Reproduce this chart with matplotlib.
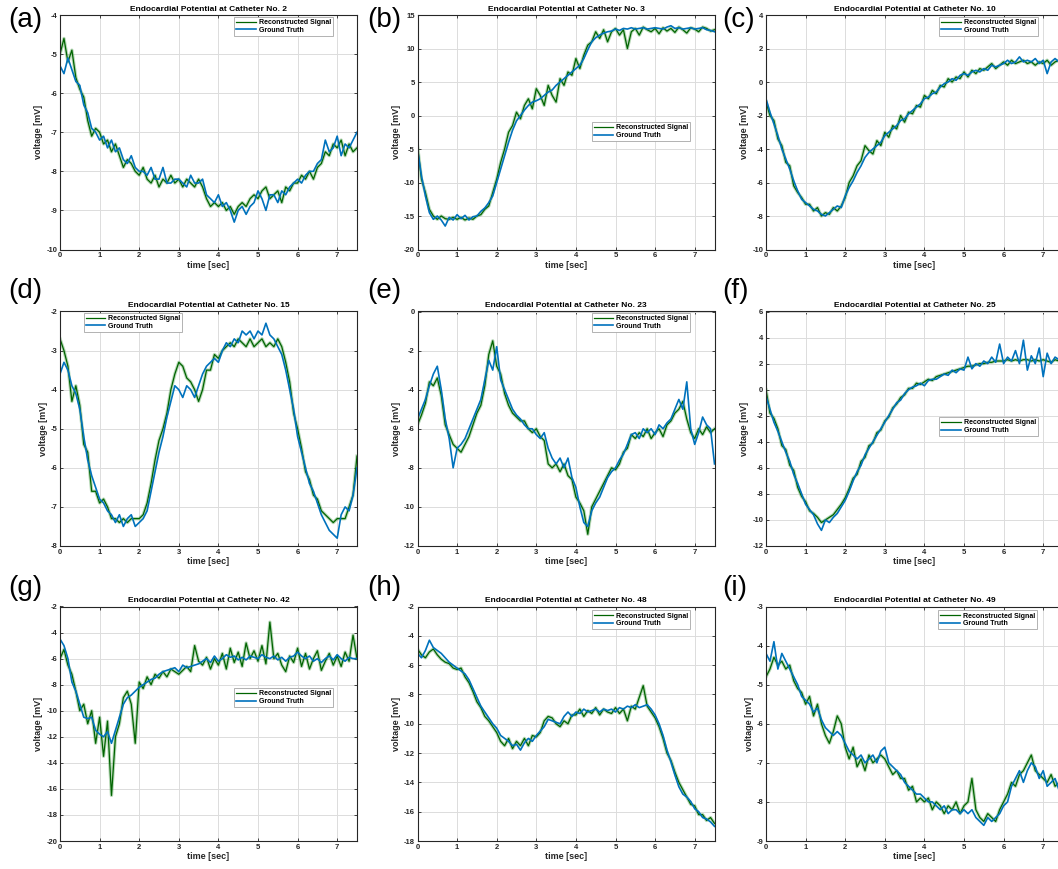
import matplotlib
matplotlib.use("Agg")
import matplotlib.pyplot as plt
import numpy as np

plt.rcParams['font.family'] = ['Liberation Sans', 'DejaVu Sans']
plt.rcParams['axes.unicode_minus'] = False

# catheter numbers for each panel
catheters = [2, 3, 10, 15, 23, 25, 42, 48, 49]
panel_tags = ['(a)', '(b)', '(c)', '(d)', '(e)', '(f)', '(g)', '(h)', '(i)']
ylims = [(-10, -4), (-20, 15), (-10, 4), (-8, -2), (-12, 0),
         (-12, 6), (-20, -2), (-18, -2), (-9, -3)]
ysteps = [1, 5, 2, 1, 2, 2, 2, 2, 1]

gt_a = [-5.3, -5.5, -5.1, -5.4, -5.7, -5.8, -6.3, -6.5, -6.9, -7.0,
        -7.2, -7.1, -7.4, -7.2, -7.5, -7.4, -7.7, -7.8, -7.6, -7.9,
        -8.0, -8.0, -8.1, -7.9, -8.2, -8.2, -7.9, -8.3, -8.3, -8.2,
        -8.2, -8.3, -8.4, -8.1, -8.3, -8.3, -8.2, -8.6, -8.7, -8.8,
        -8.6, -8.9, -8.8, -9.0, -9.3, -9.0, -8.9, -9.1, -8.9, -8.8,
        -8.5, -8.7, -9.0, -8.6, -8.6, -8.8, -8.5, -8.6, -8.4, -8.3,
        -8.2, -8.3, -8.1, -8.0, -8.0, -7.8, -7.7, -7.2, -7.5, -7.4,
        -7.1, -7.6, -7.3, -7.4, -7.2, -7.0]
rec_a = [-5.0, -4.6, -5.2, -4.9, -5.6, -5.9, -6.1, -6.7, -7.1, -6.9,
         -7.0, -7.3, -7.2, -7.5, -7.3, -7.6, -7.9, -7.7, -7.8, -8.0,
         -8.1, -7.9, -8.2, -8.3, -8.1, -8.4, -8.2, -8.3, -8.1, -8.3,
         -8.2, -8.4, -8.2, -8.3, -8.4, -8.2, -8.4, -8.7, -8.9, -8.8,
         -8.9, -8.8, -9.0, -8.9, -9.1, -8.9, -8.8, -8.9, -8.7, -8.6,
         -8.7, -8.5, -8.4, -8.7, -8.6, -8.5, -8.8, -8.4, -8.5, -8.3,
         -8.3, -8.1, -8.2, -8.0, -8.2, -7.9, -7.8, -7.5, -7.6, -7.3,
         -7.4, -7.2, -7.6, -7.3, -7.5, -7.4]

gt_b = [-5.0, -9.0, -12.0, -14.5, -15.5, -15.0, -15.6, -16.5, -15.2, -15.6,
        -14.8, -15.4, -14.9, -15.6, -15.1, -15.0, -14.3, -13.8, -13.0, -12.0,
        -10.0, -8.0, -6.0, -4.0, -2.2, -0.8, 0.0, 0.8, 1.5, 2.0,
        2.2, 2.5, 3.0, 3.5, 3.8, 4.5, 5.0, 5.5, 6.0, 6.5,
        7.0, 7.5, 8.5, 9.8, 11.0, 11.6, 12.0, 12.3, 12.5, 12.6,
        12.9, 12.7, 13.0, 12.9, 13.1, 12.9, 13.0, 13.1, 12.9, 13.0,
        13.1, 13.0, 12.9, 13.2, 13.4, 13.0, 13.1, 12.9, 13.0, 13.1,
        12.9, 13.0, 13.1, 12.8, 12.7, 12.5]
rec_b = [-4.5, -9.5, -11.5, -14.0, -15.0, -15.5, -15.0, -15.4, -15.5, -15.2,
         -15.5, -15.2, -15.6, -15.3, -15.5, -15.0, -14.8, -14.0, -13.5, -11.5,
         -9.5, -7.0, -5.0, -2.5, -1.5, 0.5, -0.5, 1.5, 2.5, 1.0,
         4.0, 3.0, 1.5, 4.5, 3.0, 2.0, 5.5, 4.5, 6.5, 6.0,
         8.5, 7.0, 9.0, 10.5, 11.0, 12.5, 11.5, 12.8, 11.0, 12.5,
         13.0, 12.0, 12.8, 10.0, 12.5, 13.0, 12.0, 13.2, 12.8, 12.5,
         13.0, 12.2, 13.1, 12.6, 13.0, 12.4, 13.2, 12.8, 12.3, 13.1,
         12.9, 12.5, 13.2, 13.0, 12.6, 12.8]

gt_c = [-1.0, -1.8, -2.5, -3.2, -4.0, -4.6, -5.2, -5.9, -6.5, -7.0,
        -7.2, -7.4, -7.6, -7.7, -7.9, -8.0, -7.8, -7.6, -7.4, -7.5,
        -6.8, -6.3, -5.9, -5.4, -5.0, -4.5, -4.2, -4.0, -3.8, -3.6,
        -3.2, -3.0, -2.8, -2.6, -2.3, -2.2, -1.9, -1.7, -1.5, -1.3,
        -1.0, -0.9, -0.7, -0.6, -0.3, -0.1, 0.0, 0.2, 0.1, 0.4,
        0.5, 0.4, 0.6, 0.7, 0.6, 0.8, 0.7, 1.0, 0.9, 1.0,
        1.1, 1.3, 1.1, 1.2, 1.5, 1.2, 1.3, 1.2, 1.4, 1.1,
        1.3, 0.5, 1.2, 1.4, 1.2, 1.3]
rec_c = [-1.2, -2.0, -2.3, -3.4, -3.8, -4.8, -5.0, -6.2, -6.6, -6.9,
         -7.3, -7.3, -7.7, -7.5, -8.0, -7.8, -7.9, -7.5, -7.7, -7.4,
         -6.9, -6.0, -5.6, -5.0, -4.7, -3.8, -4.1, -4.3, -3.5, -3.8,
         -3.0, -3.3, -2.6, -2.8, -2.0, -2.4, -1.8, -1.9, -1.4, -1.5,
         -0.8, -1.0, -0.5, -0.7, -0.2, -0.3, 0.2, 0.0, 0.3, 0.2,
         0.6, 0.3, 0.7, 0.5, 0.8, 0.7, 0.9, 1.1, 0.8, 1.0,
         1.2, 1.0, 1.3, 1.1, 1.2, 1.3, 1.1, 1.2, 1.0, 1.2,
         1.1, 1.3, 1.0, 1.2, 1.3, 1.1]

gt_d = [-3.6, -3.3, -3.5, -3.9, -4.1, -4.5, -5.2, -5.8, -6.2, -6.5,
        -6.8, -6.9, -7.1, -7.2, -7.4, -7.2, -7.5, -7.3, -7.2, -7.5,
        -7.4, -7.3, -7.1, -6.6, -6.1, -5.6, -5.2, -4.7, -4.3, -3.9,
        -4.0, -4.2, -3.9, -4.0, -4.2, -3.9, -3.6, -3.4, -3.3, -3.2,
        -3.3, -3.0, -2.8, -2.9, -2.7, -2.8, -2.5, -2.6, -2.5, -2.7,
        -2.5, -2.6, -2.3, -2.6, -2.7, -2.9, -3.1, -3.5, -4.0, -4.5,
        -5.2, -5.6, -6.0, -6.4, -6.6, -6.9, -7.2, -7.4, -7.6, -7.7,
        -7.8, -7.2, -7.0, -7.1, -6.7, -6.0]
rec_d = [-2.7, -3.0, -3.4, -4.3, -3.9, -4.4, -5.4, -5.6, -6.6, -6.6,
         -6.9, -6.8, -7.0, -7.3, -7.3, -7.4, -7.3, -7.4, -7.3, -7.3,
         -7.3, -7.2, -6.9, -6.4, -5.8, -5.3, -5.0, -4.6, -4.0, -3.6,
         -3.3, -3.4, -3.7, -3.8, -4.0, -4.3, -4.0, -3.5, -3.5, -3.1,
         -3.2, -3.0, -2.9, -2.8, -2.9, -2.7, -2.8, -2.9, -2.7, -2.9,
         -2.8, -2.7, -2.9, -2.8, -2.9, -2.7, -2.9, -3.3, -3.8, -4.6,
         -5.0, -5.5, -6.1, -6.3, -6.7, -6.8, -7.1, -7.2, -7.3, -7.4,
         -7.3, -7.3, -7.3, -7.0, -6.7, -5.7]

gt_e = [-5.5, -5.0, -4.5, -3.8, -3.2, -2.8, -4.0, -5.5, -6.5, -8.0,
        -7.0, -6.8, -6.5, -6.0, -5.5, -5.0, -4.5, -3.5, -2.5, -3.0,
        -1.8, -3.5, -4.0, -4.5, -5.0, -5.3, -5.5, -5.8, -6.0, -6.0,
        -6.3, -6.5, -6.2, -7.0, -7.5, -7.8, -7.5, -8.0, -7.5, -8.5,
        -9.0, -10.0, -10.8, -11.0, -10.2, -9.8, -9.5, -9.0, -8.5, -8.2,
        -8.0, -7.6, -7.3, -6.8, -6.3, -6.2, -6.5, -6.0, -6.2, -6.0,
        -6.3, -5.8, -6.0, -5.7, -5.5, -5.0, -4.5, -5.0, -3.6, -6.0,
        -6.8, -6.2, -5.4, -5.8, -6.0, -7.8]
rec_e = [-5.8, -5.3, -4.7, -3.6, -3.8, -3.4, -4.3, -5.8, -6.3, -6.8,
         -7.0, -7.2, -6.8, -6.4, -5.8, -5.2, -4.8, -3.8, -2.2, -1.5,
         -2.8, -3.2, -4.2, -4.8, -5.2, -5.4, -5.6, -5.6, -6.0, -6.2,
         -6.0, -6.4, -6.6, -7.8, -8.0, -7.8, -8.2, -7.8, -8.4, -8.6,
         -9.5, -9.8, -10.2, -11.4, -10.0, -9.6, -9.2, -8.8, -8.4, -8.0,
         -8.1, -7.8, -7.2, -7.0, -6.3, -6.5, -6.2, -6.4, -6.0, -6.5,
         -6.2, -6.0, -6.4, -5.8, -5.6, -5.2, -5.0, -4.6, -5.5, -6.2,
         -6.5, -6.0, -6.3, -5.9, -6.2, -6.0]

gt_f = [-0.5, -1.5, -2.5, -3.2, -4.0, -4.8, -5.5, -6.5, -7.2, -8.0,
        -8.8, -9.2, -9.6, -10.3, -10.8, -10.0, -10.2, -9.8, -9.5, -9.0,
        -8.5, -7.8, -7.0, -6.3, -5.8, -5.0, -4.5, -4.0, -3.5, -3.0,
        -2.5, -2.0, -1.5, -1.0, -0.8, -0.3, 0.0, 0.2, 0.3, 0.5,
        0.3, 0.7, 0.8, 0.8, 1.0, 1.2, 1.1, 1.5, 1.3, 1.6,
        1.5, 2.5, 1.6, 2.0, 1.8, 2.2, 2.0, 2.5, 2.1, 3.5,
        2.0, 2.5, 2.2, 3.0, 2.0, 3.8, 1.5, 2.6, 2.0, 3.2,
        1.0, 2.8, 2.0, 2.5, 2.3, 4.5]
rec_f = [0.0, -1.8, -2.2, -3.0, -4.3, -4.6, -5.8, -6.2, -7.5, -8.2,
         -8.6, -9.3, -9.5, -9.8, -10.2, -10.0, -9.8, -9.6, -9.2, -8.8,
         -8.3, -7.6, -6.8, -6.5, -5.5, -5.2, -4.3, -4.1, -3.3, -3.1,
         -2.4, -2.1, -1.4, -1.1, -0.6, -0.4, 0.1, 0.1, 0.5, 0.4,
         0.6, 0.8, 0.7, 1.0, 1.1, 1.2, 1.3, 1.4, 1.5, 1.6,
         1.7, 1.8, 1.8, 1.9, 2.0, 2.0, 2.1, 2.1, 2.2, 2.2,
         2.2, 2.3, 2.2, 2.3, 2.2, 2.3, 2.3, 2.2, 2.3, 2.2,
         2.3, 2.2, 2.1, 2.3, 2.2, 2.2]

gt_g = [-4.5, -5.0, -6.0, -7.8, -8.5, -9.5, -10.5, -10.6, -10.5, -11.5,
        -11.8, -12.0, -11.6, -12.5, -11.5, -10.5, -9.5, -9.0, -8.8, -8.5,
        -8.2, -8.0, -7.8, -7.6, -7.5, -7.2, -7.0, -6.9, -6.8, -6.7,
        -7.0, -6.5, -6.7, -6.6, -6.5, -6.4, -6.2, -6.0, -6.3, -5.8,
        -6.2, -6.0, -5.7, -5.9, -5.8, -6.1, -5.9, -6.1, -5.8, -5.9,
        -6.0, -5.7, -5.9, -6.0, -5.8, -6.1, -5.9, -6.2, -5.9, -5.8,
        -5.5, -5.8, -6.0, -5.8, -6.2, -6.0, -6.3, -6.0, -5.8, -6.1,
        -5.7, -6.0, -6.2, -5.9, -6.0, -6.0]
rec_g = [-6.0, -5.3, -6.5, -7.2, -8.5, -10.0, -9.5, -11.0, -10.0, -12.5,
         -10.5, -13.5, -10.8, -16.5, -12.0, -11.0, -9.0, -8.5, -9.5, -12.5,
         -7.8, -8.3, -7.4, -8.0, -7.2, -7.5, -7.0, -7.4, -6.8, -7.0,
         -7.2, -6.9, -6.6, -7.0, -5.0, -6.2, -6.5, -5.9, -6.8, -6.0,
         -6.5, -5.6, -6.8, -5.2, -6.3, -5.5, -6.6, -4.8, -6.0, -5.4,
         -6.2, -5.0, -6.4, -3.2, -6.0, -5.6, -6.5, -7.0, -5.8, -6.3,
         -5.2, -6.6, -5.6, -6.8, -6.0, -5.4, -6.9, -6.2, -5.6, -6.5,
         -5.8, -6.6, -5.5, -6.2, -4.2, -6.0]

gt_h = [-5.2, -5.5, -5.0, -4.3, -4.8, -5.0, -5.2, -5.5, -5.8, -6.0,
        -6.2, -6.4, -6.6, -7.0, -7.6, -8.2, -8.8, -9.2, -9.6, -10.0,
        -10.3, -10.8, -11.0, -11.2, -11.5, -11.4, -11.8, -11.3, -11.0, -11.2,
        -10.8, -10.5, -10.2, -9.7, -9.8, -9.9, -10.0, -9.5, -9.2, -9.5,
        -9.2, -9.3, -9.0, -9.2, -9.1, -9.0, -9.2, -9.0, -9.1, -9.0,
        -9.2, -8.9, -9.0, -8.8, -8.9, -8.7, -8.9, -8.8, -8.7, -9.0,
        -9.4, -10.0, -10.8, -11.8, -12.6, -13.5, -14.3, -14.8, -15.0, -15.3,
        -15.8, -16.0, -16.4, -16.5, -16.7, -17.0]
rec_h = [-4.9, -5.3, -5.5, -5.1, -4.9, -5.3, -5.6, -5.8, -5.9, -6.2,
         -6.3, -6.2, -6.8, -7.2, -7.8, -8.5, -8.9, -9.5, -9.8, -10.2,
         -10.6, -11.2, -11.5, -11.0, -11.7, -11.2, -11.5, -11.0, -11.5, -10.8,
         -10.9, -10.6, -9.8, -9.5, -9.6, -10.0, -10.2, -9.8, -10.0, -9.4,
         -9.4, -9.0, -9.5, -9.1, -9.3, -8.9, -9.4, -9.0, -9.2, -9.3,
         -8.9, -9.3, -9.0, -9.8, -8.8, -9.0, -8.2, -7.4, -8.8, -9.2,
         -9.6, -10.2, -11.0, -12.0, -12.5, -13.3, -14.0, -14.5, -15.0, -15.5,
         -15.6, -16.2, -16.2, -16.6, -16.4, -16.8]

gt_i = [-4.2, -4.4, -3.9, -4.6, -4.2, -4.4, -4.6, -4.8, -5.0, -5.3,
        -5.4, -5.5, -5.7, -5.6, -5.9, -6.1, -6.2, -6.3, -6.2, -6.3,
        -6.5, -6.7, -6.8, -6.9, -6.8, -7.0, -6.9, -6.8, -7.0, -6.7,
        -6.6, -7.0, -7.1, -7.2, -7.3, -7.5, -7.6, -7.7, -7.8, -7.8,
        -7.9, -8.0, -8.0, -8.1, -8.2, -8.1, -8.3, -8.2, -8.2, -8.3,
        -8.2, -8.3, -8.2, -8.4, -8.5, -8.6, -8.4, -8.5, -8.4, -8.3,
        -8.1, -8.0, -7.6, -7.4, -7.2, -7.5, -7.2, -7.0, -7.1, -7.4,
        -7.2, -7.6, -7.5, -7.4, -7.7, -8.0]
rec_i = [-4.8, -4.6, -4.3, -4.5, -4.4, -4.6, -4.5, -4.9, -5.1, -5.2,
         -5.5, -5.3, -5.8, -5.5, -6.0, -6.3, -6.5, -6.2, -5.8, -6.0,
         -6.6, -6.9, -6.6, -7.1, -6.9, -7.2, -6.8, -7.0, -6.9, -6.8,
         -6.9, -7.1, -7.3, -7.2, -7.4, -7.4, -7.7, -7.6, -8.0, -7.9,
         -8.0, -7.9, -8.2, -8.0, -8.1, -8.3, -8.1, -8.2, -8.0, -8.3,
         -8.1, -8.0, -7.4, -8.2, -8.4, -8.5, -8.3, -8.4, -8.5, -8.2,
         -8.0, -7.8, -7.5, -7.6, -7.3, -7.2, -7.0, -6.8, -7.2, -7.3,
         -7.4, -7.5, -7.3, -7.6, -7.5, -7.8]

ground_truth = [gt_a, gt_b, gt_c, gt_d, gt_e, gt_f, gt_g, gt_h, gt_i]
reconstructed = [rec_a, rec_b, rec_c, rec_d, rec_e, rec_f, rec_g, rec_h, rec_i]

# legend anchor in axes fraction
legend_loc = ['upper right', 'upper right', 'upper right', 'upper left', 'upper right',
              'upper right', 'upper right', 'upper right', 'upper right']
legend_anchor = [(0.919, 0.991), (0.918, 0.543), (0.916, 0.991), (0.08, 0.994), (0.918, 0.994),
                 (0.916, 0.549), (0.919, 0.651), (0.918, 0.983), (0.912, 0.983)]

W, H = 1058, 869
fig = plt.figure(figsize=(W / 100, H / 100), dpi=100)

col_left = [60, 417.5, 766]
row_top = [15, 311.5, 606.5]
ax_w, ax_h = 297, 234.5
label_x = [8, 367, 722]
label_y = [20, 291, 588]

green = '#006400'
blue = '#0072BD'
dark = '#262626'

for k in range(9):
    r, c = divmod(k, 3)
    ax = fig.add_axes([col_left[c] / W, 1 - (row_top[r] + ax_h) / H, ax_w / W, ax_h / H])

    gt = np.array(ground_truth[k])
    rec = np.array(reconstructed[k])
    t_gt = np.arange(len(gt)) * 0.1
    t_rec = np.arange(len(rec)) * 0.1

    ax.plot(t_rec, rec, color='#2f8f2f', lw=2.4, alpha=0.35)
    ax.plot(t_rec, rec, color=green, lw=0.9, label='Reconstructed Signal')
    ax.plot(t_gt, gt, color=blue, lw=1.2, label='Ground Truth')

    ax.set_xlim(0, 7.5)
    ax.set_ylim(*ylims[k])
    ax.set_xticks(range(0, 8))
    ax.set_yticks(np.arange(ylims[k][0], ylims[k][1] + 0.01, ysteps[k]))
    ax.grid(True, color='#dcdcdc', lw=0.7)
    ax.set_axisbelow(True)
    ax.tick_params(direction='in', length=2.5, width=0.6, top=True, right=True,
                   labelsize=5.5, pad=2, colors=dark)
    plt.setp(ax.get_xticklabels() + ax.get_yticklabels(), fontweight='bold')
    for s in ax.spines.values():
        s.set_color(dark)
        s.set_linewidth(0.8)

    ax.set_title('Endocardial Potential at Catheter No. %d' % catheters[k],
                 fontsize=6, fontweight='bold', pad=3, color='#000000')
    ax.set_xlabel('time [sec]', fontsize=6.5, fontweight='bold', labelpad=1, color=dark)
    ax.set_ylabel('voltage [mV]', fontsize=6.5, fontweight='bold', labelpad=2, color=dark)

    leg = ax.legend(loc=legend_loc[k], bbox_to_anchor=legend_anchor[k], borderaxespad=0,
                    prop={'weight': 'bold', 'size': 5}, handlelength=2.8,
                    handletextpad=0.4, borderpad=0.3, labelspacing=0.1,
                    fancybox=False, framealpha=1, edgecolor='#a6a6a6')
    leg.get_frame().set_linewidth(0.6)

    fig.text(label_x[c] / W, 1 - label_y[r] / H, panel_tags[k], fontsize=20,
             ha='left', va='center')

fig.savefig('out.png', dpi=100)
